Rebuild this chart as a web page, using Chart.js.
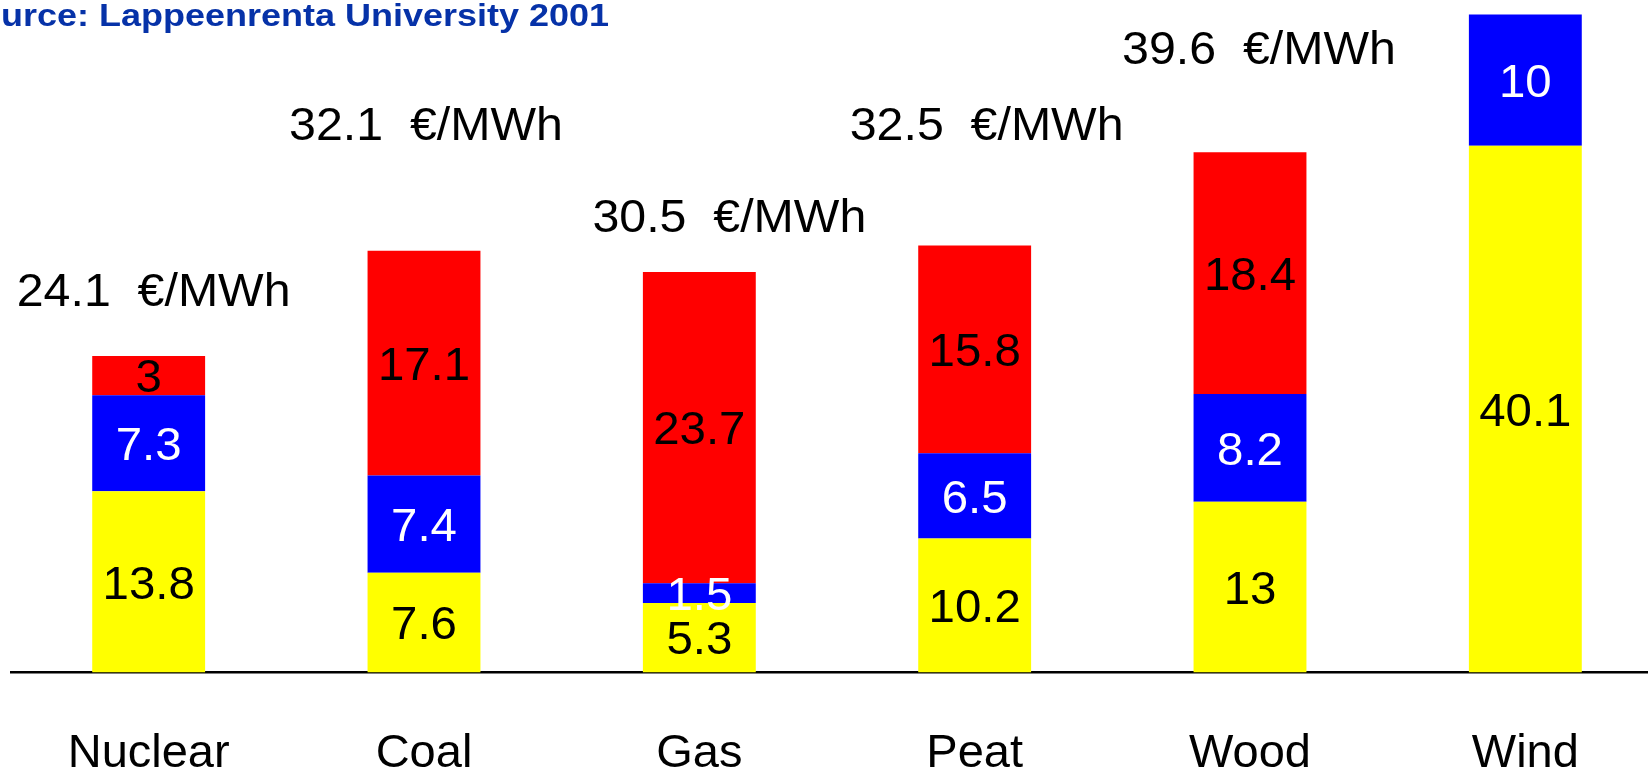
<!DOCTYPE html>
<html>
<head>
<meta charset="utf-8">
<script src="https://cdn.jsdelivr.net/npm/chart.js@4.4.1/dist/chart.umd.min.js"></script>
<style>
  html, body { margin: 0; padding: 0; background: #fff; overflow: hidden; }
  #wrap { position: absolute; left: 0; top: 0; width: 1663px; height: 771px; }
</style>
</head>
<body>
<div id="wrap"><canvas id="c" width="1663" height="771"></canvas></div>
<script>
const categories = ["Nuclear", "Coal", "Gas", "Peat", "Wood", "Wind"];
const capitalCosts = [13.8, 7.6, 5.3, 10.2, 13, 40.1];   // yellow
const omCosts      = [7.3, 7.4, 1.5, 6.5, 8.2, 10];      // blue
const fuelCosts    = [3, 17.1, 23.7, 15.8, 18.4, null];  // red
const unitLabel = "€/MWh";
const sourceText = "Source: Lappeenrenta University 2001";

const FONT = "'Liberation Sans', Arial, sans-serif";

// label placement for the totals (offset above the bar top, in value units; x shift in px)
const totalLabelPlacement = [
  { lift: 5.1, dx: 5 },
  { lift: 9.7, dx: 2 },
  { lift: 4.3, dx: 30 },
  { lift: 9.3, dx: 12 },
  { lift: 8.0, dx: 9 },
  null
];

function stretchedText(ctx, text, x, y, sx) {
  ctx.save();
  ctx.translate(x, y);
  ctx.scale(sx, 1);
  ctx.fillText(text, 0, 0);
  ctx.restore();
}

const segmentLabels = {
  id: 'segmentLabels',
  afterDatasetsDraw(chart) {
    const ctx = chart.ctx;
    ctx.save();
    ctx.font = '46px ' + FONT;
    ctx.textAlign = 'center';
    ctx.textBaseline = 'middle';
    chart.data.datasets.forEach((ds, di) => {
      const meta = chart.getDatasetMeta(di);
      meta.data.forEach((el, i) => {
        const v = ds.data[i];
        if (v === null || v === undefined) return;
        const p = el.getProps(['x', 'y', 'base'], true);
        ctx.fillStyle = ds.labelColor;
        stretchedText(ctx, String(v), p.x, (p.y + p.base) / 2 + 4, 1.03);
      });
    });
    // totals
    const yScale = chart.scales.y;
    const meta0 = chart.getDatasetMeta(0);
    ctx.fillStyle = '#000';
    categories.forEach((c, i) => {
      const pl = totalLabelPlacement[i];
      if (!pl) return;
      const total = (capitalCosts[i] || 0) + (omCosts[i] || 0) + (fuelCosts[i] || 0);
      const x = meta0.data[i].x + pl.dx;
      const y = yScale.getPixelForValue(total + pl.lift);
      stretchedText(ctx, total.toFixed(1) + '  ' + unitLabel, x, y + 4, 1.05);
    });
    ctx.restore();
  }
};

const sourcePlugin = {
  id: 'sourcePlugin',
  afterDraw(chart) {
    const ctx = chart.ctx;
    ctx.save();
    ctx.font = 'bold 31px ' + FONT;
    ctx.fillStyle = '#0632a8';
    ctx.textAlign = 'right';
    ctx.textBaseline = 'alphabetic';
    // the visible part of the clipped source line ("urce: ...") spans 0..609 px
    const visibleW = ctx.measureText(sourceText.slice(2)).width;
    stretchedText(ctx, sourceText, 609, 26, 608 / visibleW);
    ctx.restore();
  }
};

new Chart(document.getElementById('c'), {
  type: 'bar',
  data: {
    labels: categories,
    datasets: [
      { label: 'Capital', data: capitalCosts, backgroundColor: '#FFFF00', labelColor: '#000' },
      { label: 'O&M', data: omCosts, backgroundColor: '#0000FF', labelColor: '#fff' },
      { label: 'Fuel', data: fuelCosts, backgroundColor: '#FF0000', labelColor: '#000' }
    ]
  },
  options: {
    responsive: false,
    devicePixelRatio: 1,
    animation: false,
    layout: { padding: { left: 11, right: 0, top: 0, bottom: 0 } },
    datasets: { bar: { barPercentage: 0.41, categoryPercentage: 1, borderWidth: 0 } },
    plugins: { legend: { display: false }, tooltip: { enabled: false }, title: { display: false } },
    scales: {
      x: {
        stacked: true,
        grid: { display: false, drawTicks: false },
        border: { display: true, color: '#000', width: 2.5 },
        ticks: { color: '#000', font: { size: 47, family: FONT }, padding: 53, maxRotation: 0, autoSkip: false },
        afterFit(scale) { scale.height = 98.5; }
      },
      y: {
        stacked: true,
        display: false,
        min: 0,
        max: 51.2
      }
    }
  },
  plugins: [segmentLabels, sourcePlugin]
});
</script>
</body>
</html>
